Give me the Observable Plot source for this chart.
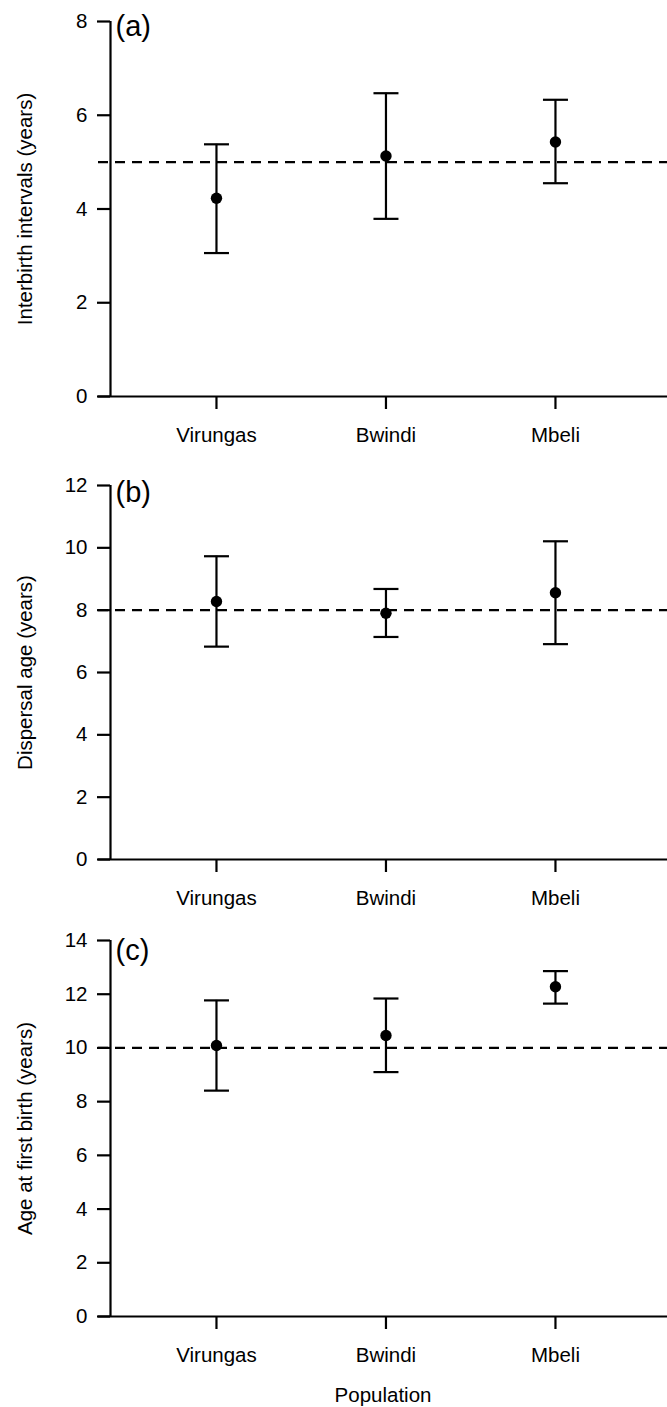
<!DOCTYPE html>
<html>
<head>
<meta charset="utf-8">
<script src="https://cdn.jsdelivr.net/npm/d3@7"></script>
<script src="https://cdn.jsdelivr.net/npm/@observablehq/plot@0.6"></script>
<style>
  body { margin: 0; background: #fff; }
  #chart svg { display: block; }
</style>
</head>
<body>
<div id="chart"></div>
<script>
// ---- Data ----
const populations = ["Virungas", "Bwindi", "Mbeli"];

const interbirthMean = [4.23, 5.13, 5.43];
const interbirthLow  = [3.06, 3.79, 4.55];
const interbirthHigh = [5.38, 6.47, 6.33];

const dispersalMean = [8.28, 7.90, 8.56];
const dispersalLow  = [6.83, 7.14, 6.91];
const dispersalHigh = [9.73, 8.68, 10.21];

const firstBirthMean = [10.09, 10.46, 12.28];
const firstBirthLow  = [8.41, 9.10, 11.65];
const firstBirthHigh = [11.77, 11.84, 12.86];

const panelLabels = ["(a)", "(b)", "(c)"];
const yTitles = ["Interbirth intervals (years)", "Dispersal age (years)", "Age at first birth (years)"];
const yMax = [8, 12, 14];
const yTicks = [[0, 2, 4, 6, 8], [0, 2, 4, 6, 8, 10, 12], [0, 2, 4, 6, 8, 10, 12, 14]];
const refLines = [5, 8, 10];
const xTitle = "Population";

// ---- Layout ----
const layouts = [
  {height: 462, marginTop: 21, marginBottom: 66, labelDy: 5.5},
  {height: 458, marginTop: 23, marginBottom: 61, labelDy: 7},
  {height: 487, marginTop: 20, marginBottom: 91, labelDy: 10}
];

const series = [
  [interbirthMean, interbirthLow, interbirthHigh],
  [dispersalMean, dispersalLow, dispersalHigh],
  [firstBirthMean, firstBirthLow, firstBirthHigh]
];

const xDomain = [-0.696, 2.661];
const font = "'Liberation Sans', Arial, Helvetica, sans-serif";

// horizontal cap symbol for error bars
const capSymbol = {
  draw(context, size) {
    const w = Math.sqrt(size / Math.PI);
    context.moveTo(-w, 0);
    context.lineTo(w, 0);
  }
};

const container = document.getElementById("chart");

series.forEach(([mean, lo, hi], p) => {
  const rows = populations.map((name, i) => ({name, i, mean: mean[i], lo: lo[i], hi: hi[i]}));
  const L = layouts[p];
  const isLast = p === series.length - 1;
  const chart = Plot.plot({
    width: 667,
    height: L.height,
    marginLeft: 98,
    marginRight: 0,
    marginTop: L.marginTop,
    marginBottom: L.marginBottom,
    style: {fontFamily: font, fontSize: "20px", color: "black", background: "white"},
    x: {domain: xDomain},
    y: {domain: [0, yMax[p]]},
    marks: [
      Plot.ruleY([refLines[p]], {stroke: "black", strokeWidth: 2.2, strokeDasharray: "10,7"}),
      Plot.ruleY([0], {stroke: "black", strokeWidth: 2.2}),
      Plot.ruleX([xDomain[0]], {dx: 12, stroke: "black", strokeWidth: 2.2}),
      Plot.axisY({ticks: yTicks[p], tickSize: 13, tickPadding: 10, dx: 12, fontSize: 20.5, label: null, strokeWidth: 2.2}),
      Plot.axisX({ticks: [0, 1, 2], tickFormat: (i) => populations[i], tickSize: 13, tickPadding: 18, fontSize: 20.5, label: null, strokeWidth: 2.2}),
      Plot.ruleX(rows, {x: "i", y1: "lo", y2: "hi", stroke: "black", strokeWidth: 2.2}),
      Plot.dot(rows, {x: "i", y: "lo", symbol: capSymbol, r: 12.5, stroke: "black", strokeWidth: 2.2, fill: "none"}),
      Plot.dot(rows, {x: "i", y: "hi", symbol: capSymbol, r: 12.5, stroke: "black", strokeWidth: 2.2, fill: "none"}),
      Plot.dot(rows, {x: "i", y: "mean", r: 5.7, fill: "black", stroke: "none"}),
      Plot.text([panelLabels[p]], {text: (d) => d, frameAnchor: "top-left", textAnchor: "start", lineAnchor: "middle", dx: 17, dy: L.labelDy, fontSize: 29, fill: "black"}),
      Plot.text([yTitles[p]], {text: (d) => d, frameAnchor: "left", textAnchor: "middle", lineAnchor: "middle", dx: -73, rotate: -90, fontSize: 20.5, fill: "black"}),
      isLast ? Plot.text([xTitle], {text: (d) => d, frameAnchor: "bottom", textAnchor: "middle", lineAnchor: "middle", dy: 79, fontSize: 20.5, fill: "black"}) : null
    ]
  });
  container.appendChild(chart);
});
</script>
</body>
</html>
